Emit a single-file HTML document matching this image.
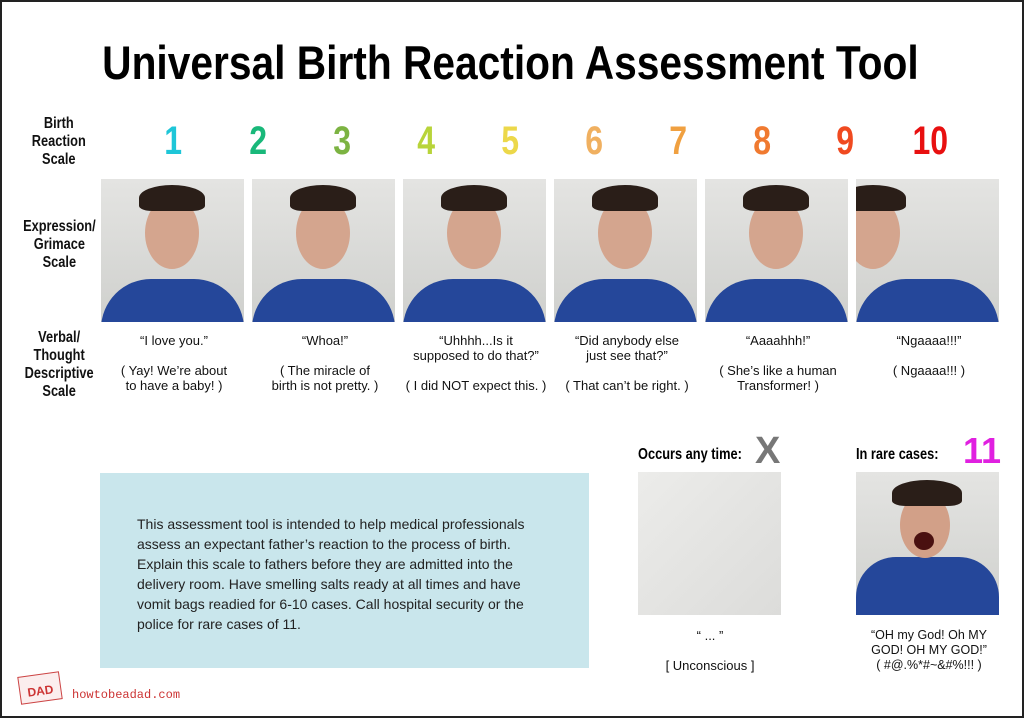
<!DOCTYPE html>
<html><head><meta charset="utf-8"><style>
body{margin:0;width:1024px;height:718px;overflow:hidden;background:#fff;font-family:"Liberation Sans",sans-serif;}
#frame{position:absolute;left:0;top:0;width:1020px;height:714px;border:2px solid #222;background:#fff;}
.abs{position:absolute;}
.cond{display:inline-block;transform:scaleX(0.8);transform-origin:center;font-weight:bold;}
.lbl{position:absolute;left:7px;width:100px;text-align:center;font-size:16px;line-height:18px;color:#111;}
.num{position:absolute;top:117px;width:60px;margin-left:-30px;text-align:center;font-size:40px;font-weight:bold;}
.photo{position:absolute;top:177px;width:143px;height:143px;background:linear-gradient(#e4e4e2,#cfd0cd);overflow:hidden;}
.txt{position:absolute;width:150px;text-align:center;font-size:13px;line-height:15px;color:#111;}
</style></head><body>
<div id="frame">
<div class="abs" style="left:-2px;top:36px;width:1020px;text-align:center;font-size:47px;line-height:50px;color:#000;"><span class="cond" style="transform:scaleX(0.866)">Universal Birth Reaction Assessment Tool</span></div>

<div class="lbl" style="top:113px"><span class="cond">Birth<br>Reaction<br>Scale</span></div>
<div class="lbl" style="top:216px"><span class="cond">Expression/<br>Grimace<br>Scale</span></div>
<div class="lbl" style="top:327px"><span class="cond">Verbal/<br>Thought<br>Descriptive<br>Scale</span></div>

<div id="nums"></div>
<div id="photos"></div>

<div class="txt" style="left:97px;top:331px">“I love you.”<br><br>( Yay! We’re about<br>to have a baby! )</div>
<div class="txt" style="left:248px;top:331px">“Whoa!”<br><br>( The miracle of<br>birth is not pretty. )</div>
<div class="txt" style="left:399px;top:331px">“Uhhhh...Is it<br>supposed to do that?”<br><br>( I did NOT expect this. )</div>
<div class="txt" style="left:550px;top:331px">“Did anybody else<br>just see that?”<br><br>( That can’t be right. )</div>
<div class="txt" style="left:701px;top:331px">“Aaaahhh!”<br><br>( She’s like a human<br>Transformer! )</div>
<div class="txt" style="left:852px;top:331px">“Ngaaaa!!!”<br><br>( Ngaaaa!!! )</div>

<div class="abs" style="left:98px;top:471px;width:489px;height:195px;background:#c9e6ec;"></div>
<div class="abs" style="left:135px;top:512px;width:420px;font-size:14px;line-height:20px;color:#222;">This assessment tool is intended to help medical professionals assess an expectant father’s reaction to the process of birth. Explain this scale to fathers before they are admitted into the delivery room. Have smelling salts ready at all times and have vomit bags readied for 6-10 cases. Call hospital security or the police for rare cases of 11.</div>

<div class="abs" style="left:636px;top:444px;font-size:16px;"><span class="cond" style="transform-origin:left">Occurs any time:</span></div>
<div class="abs" style="left:753px;top:428px;font-size:38px;color:#777;font-weight:bold;">X</div>
<div class="abs" style="left:636px;top:470px;width:143px;height:143px;background:linear-gradient(135deg,#ececea,#dcdcda);"></div>
<div class="txt" style="left:633px;top:626px">“ ... ”<br><br>[ Unconscious ]</div>

<div class="abs" style="left:854px;top:444px;font-size:16px;"><span class="cond" style="transform-origin:left">In rare cases:</span></div>
<div class="abs" style="left:961px;top:428px;font-size:36px;color:#e020e0;font-weight:bold;">11</div>
<div class="photo" style="left:854px;top:470px;"><div class="abs" style="left:0;top:85px;width:143px;height:60px;background:#25479a;border-radius:40px 40px 0 0"></div><div class="abs" style="left:44px;top:20px;width:50px;height:66px;background:#d2a088;border-radius:50%"></div><div class="abs" style="left:36px;top:8px;width:70px;height:26px;background:#2a1e18;border-radius:50% 50% 20% 20%"></div><div class="abs" style="left:58px;top:60px;width:20px;height:18px;background:#4a1010;border-radius:50%"></div></div>
<div class="txt" style="left:852px;top:626px;font-size:12.5px">“OH my God! Oh MY<br>GOD! OH MY GOD!”<br>( #@.%*#~&amp;#%!!! )</div>

<div class="abs" style="left:17px;top:672px;width:40px;height:26px;border:1px solid #c44;transform:rotate(-8deg);color:#c33;font-weight:bold;font-size:12px;text-align:center;line-height:32px;background:#fbeeee">DAD</div>
<div class="abs" style="left:70px;top:686px;font-family:'Liberation Mono',monospace;font-size:12px;color:#c33;">howtobeadad.com</div>
</div>
<script>
const numLabels=["1","2","3","4","5","6","7","8","9","10"];
const numColors=["#1ec6d8","#19b87a","#7cb342","#b8d43a","#ecd84a","#f0b060","#f0a040","#f07a30","#f04a20","#e81010"];
const numX=[171,256,340,424,508,592,676,760,843,928];
const photoX=[99,250,401,552,703,854];
const nums=document.getElementById('nums');
numLabels.forEach((t,i)=>{const d=document.createElement('div');d.className='num';d.style.left=numX[i]+'px';d.style.color=numColors[i];d.innerHTML='<span class="cond">'+t+'</span>';


nums.appendChild(d);});
const ph=document.getElementById('photos');
photoX.forEach((x,i)=>{const d=document.createElement('div');d.className='photo';d.style.left=x+'px';
const fx=i==5?-10:44;
d.innerHTML='<div class="abs" style="left:0;top:100px;width:143px;height:50px;background:#25479a;border-radius:50px 50px 0 0"></div><div class="abs" style="left:'+fx+'px;top:18px;width:54px;height:72px;background:#d4a58e;border-radius:50%"></div><div class="abs" style="left:'+(fx-6)+'px;top:6px;width:66px;height:26px;background:#2a1e18;border-radius:50% 50% 20% 20%"></div>';


ph.appendChild(d);});
</script>
</body></html>
